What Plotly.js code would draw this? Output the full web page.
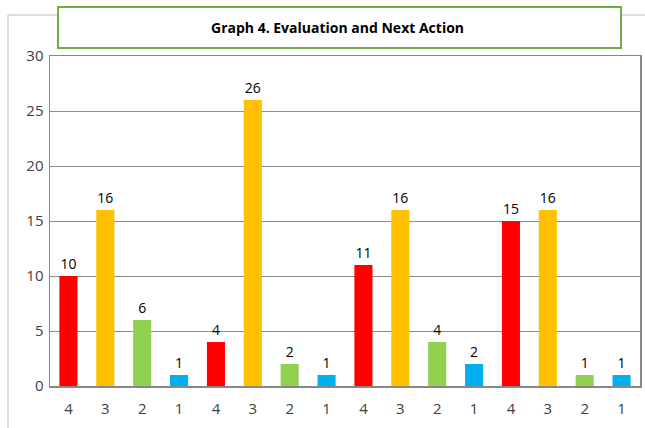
<!DOCTYPE html>
<html>
<head>
<meta charset="utf-8">
<script src="https://cdn.plot.ly/plotly-3.0.1.min.js"></script>
<style>html,body{margin:0;padding:0;background:#fff;}#chart{width:645px;height:428px;}</style>
</head>
<body>
<div id="chart"></div>
<script>
// Data
const grades = ["4","3","2","1","4","3","2","1","4","3","2","1","4","3","2","1"];
const counts = [10,16,6,1, 4,26,2,1, 11,16,4,2, 15,16,1,1];
const yTicks = [0,5,10,15,20,25,30];
const titleText = "Graph 4. Evaluation and Next Action";

const gradeColors = {"4":"#FF0000","3":"#FFC000","2":"#92D050","1":"#00B0F0"};
const positions = grades.map((g,i)=>i);

const trace = {
  type: "bar",
  x: positions,
  y: counts,
  width: 0.49,
  marker: {color: grades.map(g=>gradeColors[g]), line:{width:0}},
  text: counts.map(String),
  textposition: "outside",
  cliponaxis: false,
  textfont: {family: "Open Sans, sans-serif", size: 14, color: "#000"},
  hoverinfo: "none"
};

const layout = {
  width: 645, height: 428,
  margin: {l: 50, r: 5, t: 56, b: 42, pad: 0},
  paper_bgcolor: "#fff", plot_bgcolor: "#fff",
  showlegend: false,
  bargap: 0.5,
  font: {family: "Open Sans, sans-serif", color: "#404040"},
  xaxis: {
    range: [-0.5, 15.5], tickmode: "array", tickvals: positions, ticktext: grades,
    showline: true, linecolor: "#888", linewidth: 1.5, mirror: true,
    showgrid: false, zeroline: false, ticks: "", ticklen: 0, ticklabelstandoff: 8,
    tickfont: {size: 15, color: "#404040"}, fixedrange: true
  },
  yaxis: {
    range: [0, 30], tickmode: "array", tickvals: yTicks,
    showline: true, linecolor: "#888", linewidth: 1.5, mirror: true,
    showgrid: true, gridcolor: "#8c8c8c", gridwidth: 1, ticklabelstandoff: 2,
    zeroline: false, ticks: "", tickfont: {size: 15, color: "#404040"}, fixedrange: true
  },
  shapes: [
    {type:"line", xref:"paper", yref:"paper", x0:-0.0712, x1:-0.0712, y0:1.1242, y1:-0.2, line:{color:"#d0d0d0", width:1.5}, layer:"below"},
    {type:"line", xref:"paper", yref:"paper", x0:-0.0712, x1:1.02, y0:1.1242, y1:1.1242, line:{color:"#d0d0d0", width:1.5}, layer:"below"},
    {type:"rect", xref:"paper", yref:"paper", x0:0.0136, x1:0.9678, y0:1.0242, y1:1.1485, fillcolor:"#fff", line:{color:"#70AD47", width:2}, layer:"above"}
  ],
  annotations: [
    {xref:"paper", yref:"paper", x:0.488, y:1.0864, text:"<b>"+titleText+"</b>", showarrow:false, xanchor:"center", yanchor:"middle",
     font:{family:"Open Sans, sans-serif", size:14, color:"#000"}}
  ]
};

Plotly.newPlot("chart", [trace], layout, {displayModeBar: false, staticPlot: true});
</script>
</body>
</html>
